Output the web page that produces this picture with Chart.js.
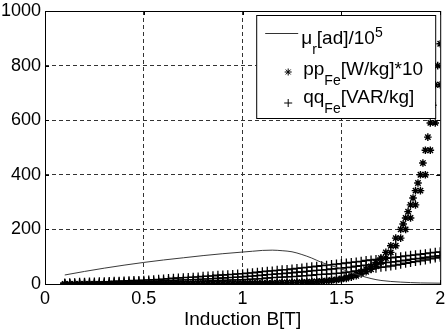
<!DOCTYPE html>
<html><head><meta charset="utf-8">
<script src="https://cdn.jsdelivr.net/npm/chart.js@4"></script>
<style>html,body{margin:0;padding:0;background:#fff}canvas{display:block}</style>
</head><body>
<canvas id="c" width="446" height="331"></canvas>
<script>
// Induction grid (T) for the marker series
const B = [0.1,0.125,0.15,0.175,0.2,0.225,0.25,0.275,0.3,0.325,0.35,0.375,0.4,0.425,0.45,0.475,0.5,0.525,0.55,0.575,0.6,0.625,0.65,0.675,0.7,0.725,0.75,0.775,0.8,0.825,0.85,0.875,0.9,0.925,0.95,0.975,1.0,1.025,1.05,1.075,1.1,1.125,1.15,1.175,1.2,1.225,1.25,1.275,1.3,1.325,1.35,1.375,1.4,1.425,1.45,1.475,1.5,1.525,1.55,1.575,1.6,1.625,1.65,1.675,1.7,1.725,1.75,1.775,1.8,1.825,1.85,1.875,1.9,1.925,1.95,1.975,2.0];
// ppFe [W/kg]*10 (two strands)
const ppA = [0,0,0,0,0,0,0,0, 0.5,0.5,0.5,0.5, 0.6,0.7,0.8,0.9, 1,1,1.1,1.1, 1.2,1.3,1.3,1.4, 1.5,1.6,1.6,1.7, 1.8,1.8,1.9,2, 2,2.1,2.2,2.3, 2.5,2.7,2.9,3.1, 3.4,3.7,4,4.4, 4.8,5.2,5.6,6, 6.5,7.5,8.5,9.5, 11,12.5,14.5,17, 20,25,30,37, 45,54,65,79, 95,116,140,168, 200,242,290,342, 400,490,590,730, 880];
const ppB = [0, 0,0,0,0,0,0,0,0, 0.5,0.5,0.5,0.5, 0.6,0.7,0.8,0.9, 1,1,1.1,1.1, 1.2,1.3,1.3,1.4, 1.5,1.6,1.6,1.7, 1.8,1.8,1.9,2, 2,2.1,2.2,2.3, 2.5,2.7,2.9,3.1, 3.4,3.7,4,4.4, 4.8,5.2,5.6,6, 6.5,7.5,8.5,9.5, 11,12.5,14.5,17, 20,25,30,37, 45,54,65,79, 95,116,140,168, 200,242,290,342, 400,490,590,730];
const ppTopB = [1.8125,1.8375,1.8625,1.8875,1.9125,1.9375,1.9625,1.9875];
const ppTopV = [220,265,315,370,443,538,655,800];
// qqFe [VAR/kg] (three strands)
const qq1 = [4,5,5,6,6,7,7,8,8, 9,10,10,11,12,13,13,14, 15,16,17,18,20,21,22,23,24,25, 26,28,29,30,32,33,34,35,37,38, 40,41,43,45,47,48,50,52,53,55, 57,59,61,63,65,67,69,71,73,75, 77,79,81,83,86,88,90,92,94,96, 98,100,103,105,107,109,111,114,116,118];
const qq2 = [2,2,3,3,4,4,4,5,5, 6,6,7,7,8,8,9,9, 10,10,11,12,13,13,14,15,15,16, 17,18,19,20,21,22,23,24,25,26, 28,29,31,32,34,35,37,38,40,41, 43,44,46,48,50,51,53,55,56,58, 60,62,65,67,69,71,73,76,78,80, 82,85,87,90,92,94,97,99,102,104];
const qq3 = [1,1,1,1,2,2,2,2,2, 2,3,3,3,3,4,4,4, 5,5,6,6,7,7,8,8,9,9, 10,10,11,12,13,13,14,15,15,16, 17,18,19,20,22,23,24,25,26,27, 28,30,31,32,34,35,36,37,39,40, 43,45,48,50,53,56,58,61,63,66, 69,72,76,79,82,85,88,92,95,98];
// mu_r [ad]/10^5
const muB = [0.1,0.2,0.3,0.4,0.5,0.6,0.7,0.8,0.9,1.0,1.05,1.1,1.15,1.2,1.25,1.3,1.35,1.4,1.45,1.5,1.55,1.6,1.65,1.7,1.8,1.9,2.0];
const mu  = [33,46,58,69,79,88,96,104,111,117,120,123,124,122,118,108,95,79,67,55,42,30,20,13,7,4,3];
const xTicks = [0,0.5,1,1.5,2];
const yTicks = [0,200,400,600,800,1000];
const xTitle = 'Induction B[T]';
const legendParts = [
  [{t:'\u03bc'},{t:'r',s:'sub'},{t:'[ad]/10'},{t:'5',s:'sup'}],
  [{t:'pp'},{t:'Fe',s:'sub'},{t:'[W/kg]*10'}],
  [{t:'qq'},{t:'Fe',s:'sub'},{t:'[VAR/kg]'}]
];

const FONT = '"Liberation Sans", Arial, sans-serif';
const pts = (xs, ys) => xs.map((x, i) => ({x: x, y: ys[i]}));
const ink = '#000';
function markerDs(data, style, r, w) {
  return {data: data, showLine: false, pointStyle: style, pointRadius: r,
    pointBorderColor: ink, pointBackgroundColor: ink, pointBorderWidth: w, order: 2};
}
function gridColor(edges) {
  return c => (c.tick && edges.indexOf(c.tick.value) >= 0) ? 'rgba(0,0,0,0)' : '#333';
}
function rich(ctx, x, y, parts) {
  for (const p of parts) {
    const sz = p.s ? 14 : 19;
    ctx.font = sz + 'px ' + FONT;
    const dy = p.s === 'sub' ? 10 : (p.s === 'sup' ? -7 : 0);
    ctx.fillText(p.t, x, y + dy);
    x += ctx.measureText(p.t).width;
  }
}
const decor = {
  id: 'decor',
  afterDraw(chart) {
    const ctx = chart.ctx, a = chart.chartArea;
    const xs = chart.scales.x, ys = chart.scales.y;
    ctx.save();
    ctx.strokeStyle = '#000'; ctx.lineWidth = 1;
    ctx.beginPath();
    xTicks.forEach(v => { const px = Math.round(xs.getPixelForValue(v)) + 0.5;
      ctx.moveTo(px, a.bottom); ctx.lineTo(px, a.bottom - 4);
      ctx.moveTo(px, a.top); ctx.lineTo(px, a.top + 4); });
    yTicks.forEach(v => { const py = Math.round(ys.getPixelForValue(v)) + 0.5;
      ctx.moveTo(a.left, py); ctx.lineTo(a.left + 4, py);
      ctx.moveTo(a.right, py); ctx.lineTo(a.right - 4, py); });
    ctx.stroke();
    // legend box
    const L = a.right - 184, T = a.top + 4, W = 179, H = 103;
    ctx.fillStyle = '#fff';
    ctx.fillRect(L, T, W, H);
    ctx.strokeRect(L + 0.5, T + 0.5, W, H);
    ctx.strokeStyle = '#333';
    ctx.beginPath(); ctx.moveTo(L + 9, T + 18.5); ctx.lineTo(L + 42, T + 18.5); ctx.stroke();
    ctx.strokeStyle = ink; ctx.fillStyle = ink;
    Chart.helpers.drawPoint(ctx, {pointStyle: 'star', radius: 3.5, borderWidth: 1.3, rotation: 0}, L + 32, T + 57);
    Chart.helpers.drawPoint(ctx, {pointStyle: 'cross', radius: 4, borderWidth: 1.2, rotation: 0}, L + 32, T + 88);
    ctx.fillStyle = '#000'; ctx.textBaseline = 'alphabetic'; ctx.textAlign = 'left';
    rich(ctx, L + 45, T + 29, legendParts[0]);
    rich(ctx, L + 47, T + 60, legendParts[1]);
    rich(ctx, L + 47, T + 88, legendParts[2]);
    // frame
    ctx.strokeStyle = '#000';
    ctx.strokeRect(a.left + 0.5, a.top + 0.5, a.right - a.left, a.bottom - a.top);
    ctx.restore();
  }
};

new Chart(document.getElementById('c'), {
  type: 'scatter',
  data: {datasets: [
    {data: pts(muB, mu), showLine: true, borderColor: '#3a3a3a', borderWidth: 1, pointRadius: 0,
     cubicInterpolationMode: 'monotone', order: 0},
    markerDs(pts(B, ppA).concat(pts(ppTopB, ppTopV)), 'star', 3.8, 1.4),
    markerDs(pts(B, ppB), 'star', 3.8, 1.4),
    markerDs(pts(B, qq1), 'cross', 4.5, 1.3),
    markerDs(pts(B, qq2), 'cross', 4.5, 1.3),
    markerDs(pts(B, qq3), 'cross', 4.5, 1.3)
  ]},
  options: {
    responsive: false, animation: false, devicePixelRatio: 1,
    layout: {padding: {top: 11, right: 4, left: 0, bottom: 0}},
    plugins: {legend: {display: false}, tooltip: {enabled: false}},
    scales: {
      x: {type: 'linear', min: 0, max: 2,
        afterBuildTicks: s => { s.ticks = xTicks.map(v => ({value: v})); },
        afterFit: s => { s.height = 47; s.paddingLeft = 0; s.paddingRight = 0; },
        grid: {color: gridColor([0, 2]), drawTicks: false, lineWidth: 1},
        border: {display: false, dash: [4, 3]},
        ticks: {color: '#000', font: {family: FONT, size: 18}, padding: 4, maxRotation: 0, autoSkip: false,
          callback: v => String(v)},
        title: {display: true, text: xTitle, color: '#000', font: {family: FONT, size: 19}, padding: {top: 0, bottom: 0}}
      },
      y: {type: 'linear', min: 0, max: 1000,
        afterBuildTicks: s => { s.ticks = yTicks.map(v => ({value: v})); },
        afterFit: s => { s.width = 45; s.paddingTop = 0; s.paddingBottom = 0; },
        grid: {color: gridColor([0, 1000]), drawTicks: false, lineWidth: 1},
        border: {display: false, dash: [4, 3]},
        ticks: {color: '#000', font: {family: FONT, size: 18}, padding: 4, autoSkip: false,
          callback: v => String(v)}
      }
    }
  },
  plugins: [decor]
});
</script>
</body></html>
